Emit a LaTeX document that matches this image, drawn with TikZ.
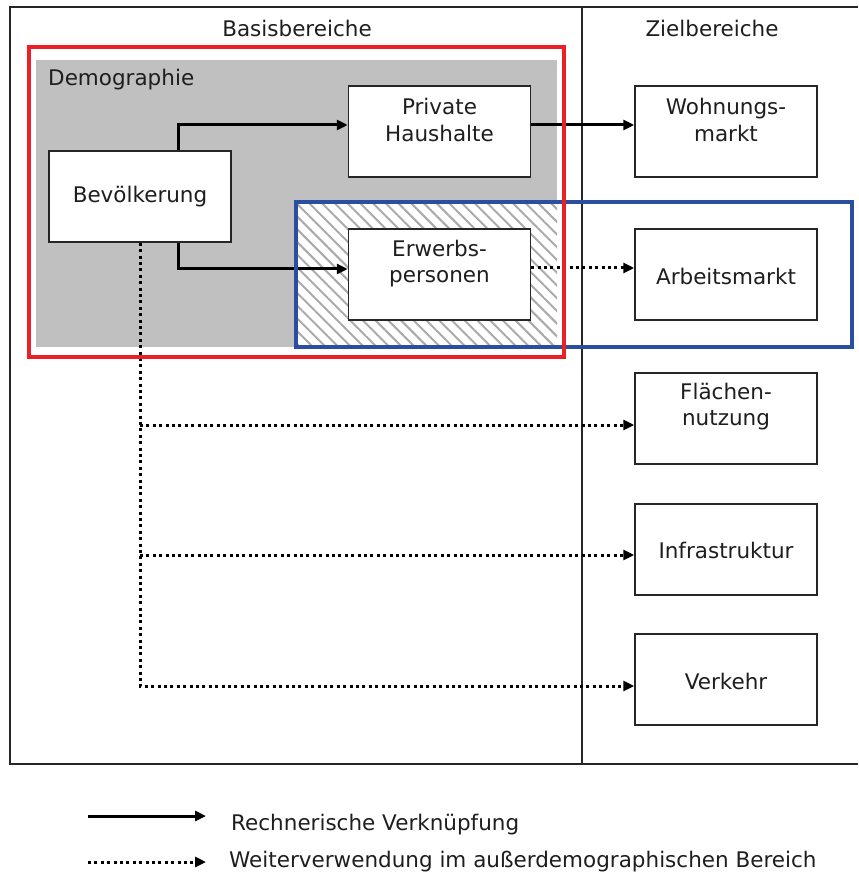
\documentclass[tikz,border=0pt]{standalone}
\usepackage{fontspec}
\setmainfont{DejaVu Sans}
\usetikzlibrary{arrows.meta,patterns.meta,calc}
\definecolor{demogray}{RGB}{192,192,192}
\definecolor{hatchgray}{RGB}{170,170,170}
\definecolor{redframe}{RGB}{236,30,38}
\definecolor{blueframe}{RGB}{44,78,160}
\definecolor{txt}{RGB}{30,30,30}
\tikzset{
  boxnode/.style={draw=black!85,line width=1.5pt,fill=white,minimum width=182pt,minimum height=91pt,inner sep=0pt},
  lbl/.style={text=txt,font=\fontsize{21.5}{26.5}\selectfont,align=center,inner sep=0pt},
  solidarrow/.style={line width=3pt,-{Triangle[length=11pt,width=10pt]}},
  dotline/.style={line width=3pt,dash pattern=on 3pt off 3.4pt},
  dotarrow/.style={dotline,-{Triangle[length=11pt,width=10pt]}},
  frameline/.style={line width=1.5pt,draw=black!85}
}
\begin{document}
\begin{tikzpicture}[x=1pt,y=-1pt]
\useasboundingbox (0,0) rectangle (858,874);
% outer frame
\draw[frameline] (858,7) -- (10,7) -- (10,764) -- (858,764);
\draw[frameline] (582,7) -- (582,764);
% headings
\node[lbl] (hb) at (297,28) {Basisbereiche};
\node[lbl] (hz) at (712,28) {Zielbereiche};
% demographie area
\fill[demogray] (36,60) rectangle (557,347);
\fill[white] (298,204) rectangle (557,345);
\fill[pattern={Lines[angle=-45,distance=9pt,line width=2pt]},pattern color=hatchgray] (298,204) rectangle (557,345);
\node[lbl,anchor=west] (demo) at (48,80) {Demographie};
% boxes
\node[boxnode] (B) at (140,196.5) {};
\node[lbl] (Bt) at (B.center) {Bevölkerung};
\node[boxnode] (PH) at (439.5,131.5) {};
\node[lbl] (PHt) at ([yshift=11.5pt]PH.center) {Private\\Haushalte};
\node[boxnode] (EP) at (439.5,274.5) {};
\node[lbl] (EPt) at ([yshift=11pt]EP.center) {Erwerbs-\\personen};
\node[boxnode] (WM) at (726,131.5) {};
\node[lbl] (WMt) at ([yshift=11.5pt]WM.center) {Wohnungs-\\markt};
\node[boxnode] (AM) at (726,274.5) {};
\node[lbl] (AMt) at ([yshift=-2pt]AM.center) {Arbeitsmarkt};
\node[boxnode] (FN) at (726,418.5) {};
\node[lbl] (FNt) at ([yshift=12pt]FN.center) {Flächen-\\nutzung};
\node[boxnode] (IS) at (726,549.5) {};
\node[lbl] (ISt) at ([yshift=-1pt]IS.center) {Infrastruktur};
\node[boxnode] (VK) at (726,679.5) {};
\node[lbl] (VKt) at ([yshift=-2pt]VK.center) {Verkehr};
% connectors
\draw[solidarrow] ([xshift=38pt]B.north) |- ([yshift=6.5pt]PH.west);
\draw[solidarrow] ([xshift=38pt]B.south) |- ([yshift=5.5pt]EP.west);
\draw[solidarrow] ([yshift=6.5pt]PH.east) -- ([yshift=6.5pt]WM.west);
\draw[dotarrow] ([yshift=6.5pt]EP.east) -- ([yshift=6.5pt]AM.west);
\draw[dotarrow] (B.south) |- ([yshift=-6.5pt]VK.west);
\draw[dotarrow] ([yshift=-6.5pt]FN.west -| B.south) -- ([yshift=-6.5pt]FN.west);
\draw[dotarrow] ([yshift=-5.5pt]IS.west -| B.south) -- ([yshift=-5.5pt]IS.west);
% coloured frames
\draw[blueframe,line width=3.5pt] (296,202) rectangle (852,347);
\draw[redframe,line width=3.5pt] (29,47) rectangle (564,357);
% legend
\coordinate (L1a) at (88,816);
\coordinate (L1b) at (206,816);
\draw[solidarrow] (L1a) -- (L1b);
\node[lbl,anchor=west] (L1t) at (231,825) {Rechnerische Verknüpfung};
\coordinate (L2a) at (88,862);
\coordinate (L2b) at (206,862);
\draw[dotarrow] (L2a) -- (L2b);
\node[lbl,anchor=west] (L2t) at (229,862) {Weiterverwendung im außerdemographischen Bereich};
\end{tikzpicture}
\end{document}
